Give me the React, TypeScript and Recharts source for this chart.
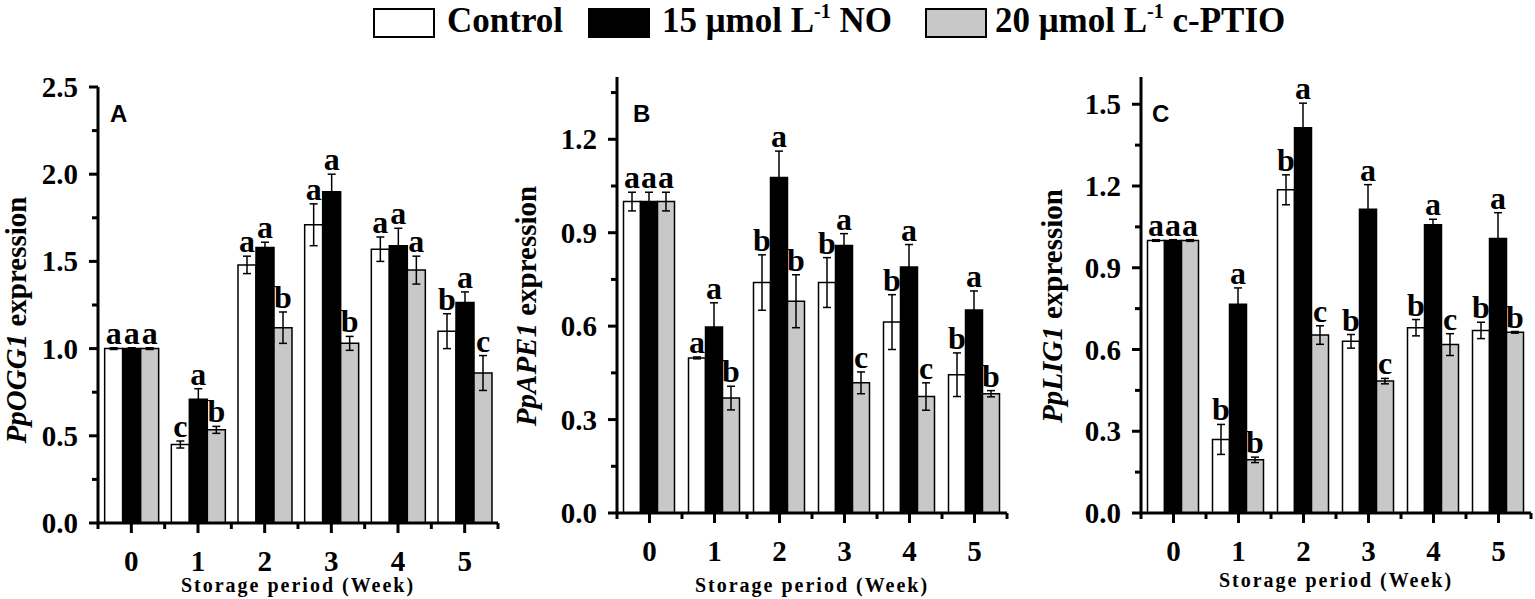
import React from "react";
import { BarChart, Bar, XAxis, YAxis, ErrorBar, LabelList } from "recharts";

const SERIF = '"Liberation Serif", "Times New Roman", serif';
const SANS = '"Liberation Sans", Arial, sans-serif';

const weeks = ["0", "1", "2", "3", "4", "5"];

// PpOGG1 (panel A)
const oggControl = [1.0, 0.45, 1.48, 1.71, 1.57, 1.1];
const oggControlErr = [0.005, 0.02, 0.05, 0.12, 0.07, 0.1];
const oggControlSig = ["a", "c", "a", "a", "a", "b"];
const oggNO = [1.0, 0.71, 1.58, 1.9, 1.59, 1.265];
const oggNOErr = [0.005, 0.06, 0.03, 0.1, 0.1, 0.06];
const oggNOSig = ["a", "a", "a", "a", "a", "a"];
const oggPTIO = [1.0, 0.534, 1.12, 1.03, 1.45, 0.86];
const oggPTIOErr = [0.005, 0.02, 0.09, 0.04, 0.08, 0.1];
const oggPTIOSig = ["a", "b", "b", "b", "a", "c"];
const oggTicks = [0, 0.25, 0.5, 0.75, 1, 1.25, 1.5, 1.75, 2, 2.25, 2.5];

// PpAPE1 (panel B)
const apeControl = [1.0, 0.498, 0.74, 0.74, 0.613, 0.444];
const apeControlErr = [0.03, 0.003, 0.089, 0.08, 0.088, 0.07];
const apeControlSig = ["a", "a", "b", "b", "b", "b"];
const apeNO = [1.0, 0.597, 1.077, 0.859, 0.79, 0.652];
const apeNOErr = [0.03, 0.078, 0.085, 0.038, 0.072, 0.061];
const apeNOSig = ["a", "a", "a", "a", "a", "a"];
const apePTIO = [1.0, 0.369, 0.68, 0.418, 0.374, 0.383];
const apePTIOErr = [0.03, 0.038, 0.085, 0.035, 0.044, 0.01];
const apePTIOSig = ["a", "b", "b", "c", "c", "b"];
const apeTicks = [0, 0.15, 0.3, 0.45, 0.6, 0.75, 0.9, 1.05, 1.2, 1.35];

// PpLIG1 (panel C)
const ligControl = [1.0, 0.27, 1.186, 0.63, 0.68, 0.67];
const ligControlErr = [0.003, 0.055, 0.055, 0.025, 0.03, 0.03];
const ligControlSig = ["a", "b", "b", "b", "b", "b"];
const ligNO = [1.0, 0.766, 1.414, 1.115, 1.058, 1.007];
const ligNOErr = [0.003, 0.06, 0.09, 0.09, 0.02, 0.095];
const ligNOSig = ["a", "a", "a", "a", "a", "a"];
const ligPTIO = [1.0, 0.195, 0.653, 0.484, 0.618, 0.663];
const ligPTIOErr = [0.003, 0.01, 0.034, 0.01, 0.04, 0.003];
const ligPTIOSig = ["a", "b", "c", "c", "c", "b"];
const ligTicks = [0, 0.15, 0.3, 0.45, 0.6, 0.75, 0.9, 1.05, 1.2, 1.35, 1.5];

const panels = [
  {
    key: "A", gene: "PpOGG1", left: 0, width: 520, axisW: 98, top: 87, axisH: 76,
    domain: [0, 2.5], ticks: oggTicks, step: 0.25, labelX: 26, labelY: 320, letterDx: 12, xTitleY: 592,
    series: [
      { vals: oggControl, errs: oggControlErr, sig: oggControlSig },
      { vals: oggNO, errs: oggNOErr, sig: oggNOSig },
      { vals: oggPTIO, errs: oggPTIOErr, sig: oggPTIOSig },
    ],
  },
  {
    key: "B", gene: "PpAPE1", left: 500, width: 520, axisW: 117, top: 77, axisH: 86,
    domain: [0, 1.4], ticks: apeTicks, step: 0.15, labelX: 36, labelY: 306, letterDx: 16, xTitleY: 592,
    series: [
      { vals: apeControl, errs: apeControlErr, sig: apeControlSig },
      { vals: apeNO, errs: apeNOErr, sig: apeNOSig },
      { vals: apePTIO, errs: apePTIOErr, sig: apePTIOSig },
    ],
  },
  {
    key: "C", gene: "PpLIG1", left: 1020, width: 515, axisW: 121, top: 77, axisH: 86,
    domain: [0, 1.6], ticks: ligTicks, step: 0.15, labelX: 42, labelY: 306, letterDx: 11, xTitleY: 587,
    series: [
      { vals: ligControl, errs: ligControlErr, sig: ligControlSig },
      { vals: ligNO, errs: ligNOErr, sig: ligNOSig },
      { vals: ligPTIO, errs: ligPTIOErr, sig: ligPTIOSig },
    ],
  },
];

const fills = ["#ffffff", "#000000", "#c8c8c8"];
const PLOT_W = 390;

const makeYTick = (step: number) => (props: any) => {
  const { x, y, payload } = props;
  const major = Math.round(payload.value / step) % 2 === 0;
  return (
    <g>
      <line x1={x - (major ? 9 : 6)} x2={x} y1={y} y2={y} stroke="#000" strokeWidth={3} />
      {major && (
        <text x={x - 20} y={y + 10} textAnchor="end" fontFamily={SERIF} fontWeight="bold" fontSize={29} fill="#000">
          {payload.value.toFixed(1)}
        </text>
      )}
    </g>
  );
};

const XTick = (props: any) => {
  const { x, y, payload, index, visibleTicksCount } = props;
  const half = payload.offset || 33;
  const last = index === (visibleTicksCount || weeks.length) - 1;
  return (
    <g>
      <line x1={x} x2={x} y1={y} y2={y + 10} stroke="#000" strokeWidth={3} />
      <line x1={x - half} x2={x - half} y1={y} y2={y + 6} stroke="#000" strokeWidth={3} />
      {last && <line x1={x + half} x2={x + half} y1={y} y2={y + 6} stroke="#000" strokeWidth={3} />}
      <text x={x} y={y + 48} textAnchor="middle" fontFamily={SERIF} fontWeight="bold" fontSize={29} fill="#000">
        {payload.value}
      </text>
    </g>
  );
};

const letterContent = (vals: number[], errs: number[], sig: string[]) => (props: any) => {
  const { x, y, width, height, index } = props;
  const v = vals[index];
  const px = v ? (errs[index] * Number(height)) / v : 0;
  return (
    <text x={Number(x) + Number(width) / 2} y={Number(y) - px - 4} textAnchor="middle"
      fontFamily={SERIF} fontWeight="bold" fontSize={32} fill="#000">
      {sig[index]}
    </text>
  );
};

function Panel({ p }: { p: any }) {
  const data = weeks.map((w, i) => ({
    week: w,
    s0: p.series[0].vals[i], e0: p.series[0].errs[i],
    s1: p.series[1].vals[i], e1: p.series[1].errs[i],
    s2: p.series[2].vals[i], e2: p.series[2].errs[i],
  }));
  const right = p.width - p.axisW - PLOT_W - (p.key === "A" ? 10 : 0);
  const yLabel = () => (
    <g>
      <text transform={`translate(${p.labelX},${p.labelY}) rotate(-90)`} textAnchor="middle"
        fontFamily={SERIF} fontWeight="bold" fontSize={29} fill="#000">
        <tspan fontStyle="italic">{p.gene}</tspan>
        <tspan> expression</tspan>
      </text>
      <text x={p.axisW + p.letterDx} y={122} fontFamily={SANS} fontWeight="bold" fontSize={24} fill="#000">
        {p.key}
      </text>
    </g>
  );
  const xLabel = () => (
    <text x={p.axisW + (p.width - p.axisW - right) / 2} y={p.xTitleY} textAnchor="middle"
      fontFamily={SERIF} fontWeight="bold" fontSize={20} letterSpacing={2} fill="#000">
      Storage period (Week)
    </text>
  );
  return (
    <div style={{ position: "absolute", left: p.left, top: 0 }}>
      <BarChart width={p.width} height={599} data={data} barCategoryGap="10%" barGap={0}
        margin={{ top: p.top, right, bottom: 0, left: 0 }}>
        <XAxis dataKey="week" height={p.axisH} interval={0} tickSize={0} tickMargin={0}
          axisLine={{ stroke: "#000", strokeWidth: 3 }} tick={XTick} label={xLabel} />
        <YAxis type="number" domain={p.domain} ticks={p.ticks} interval={0} width={p.axisW}
          tickSize={0} tickMargin={0} axisLine={{ stroke: "#000", strokeWidth: 3 }}
          tick={makeYTick(p.step)} label={yLabel} />
        {p.series.map((s: any, k: number) => (
          <Bar key={k} dataKey={`s${k}`} fill={fills[k]} stroke="#000" strokeWidth={1.5}
            isAnimationActive={false}>
            <ErrorBar dataKey={`e${k}`} width={4} stroke="#000" strokeWidth={1.5} direction="y"
              isAnimationActive={false} />
            <LabelList dataKey={`s${k}`} content={letterContent(s.vals, s.errs, s.sig)} />
          </Bar>
        ))}
      </BarChart>
    </div>
  );
}

function Legend() {
  const t = { fontFamily: SERIF, fontWeight: "bold" as const, fontSize: 35, fill: "#000" };
  return (
    <svg width={1535} height={60} style={{ position: "absolute", left: 0, top: 0 }}>
      <rect x={374} y={9} width={60} height={28} fill="#fff" stroke="#000" strokeWidth={2} />
      <text x={447} y={32} {...t}>Control</text>
      <rect x={589} y={9} width={60} height={28} fill="#000" stroke="#000" strokeWidth={2} />
      <text x={662} y={32} {...t}>
        15 μmol L<tspan fontSize={20} dy={-14}>-1</tspan>
        <tspan dy={14}> NO</tspan>
      </text>
      <rect x={926} y={9} width={60} height={28} fill="#c8c8c8" stroke="#000" strokeWidth={2} />
      <text x={995} y={32} {...t}>
        20 μmol L<tspan fontSize={20} dy={-14}>-1</tspan>
        <tspan dy={14}> c-PTIO</tspan>
      </text>
    </svg>
  );
}

export default function App() {
  return (
    <div style={{ position: "absolute", left: 0, top: 0, width: 1535, height: 599, overflow: "hidden", background: "#fff" }}>
      <Legend />
      {panels.map((p) => (
        <Panel key={p.key} p={p} />
      ))}
    </div>
  );
}
